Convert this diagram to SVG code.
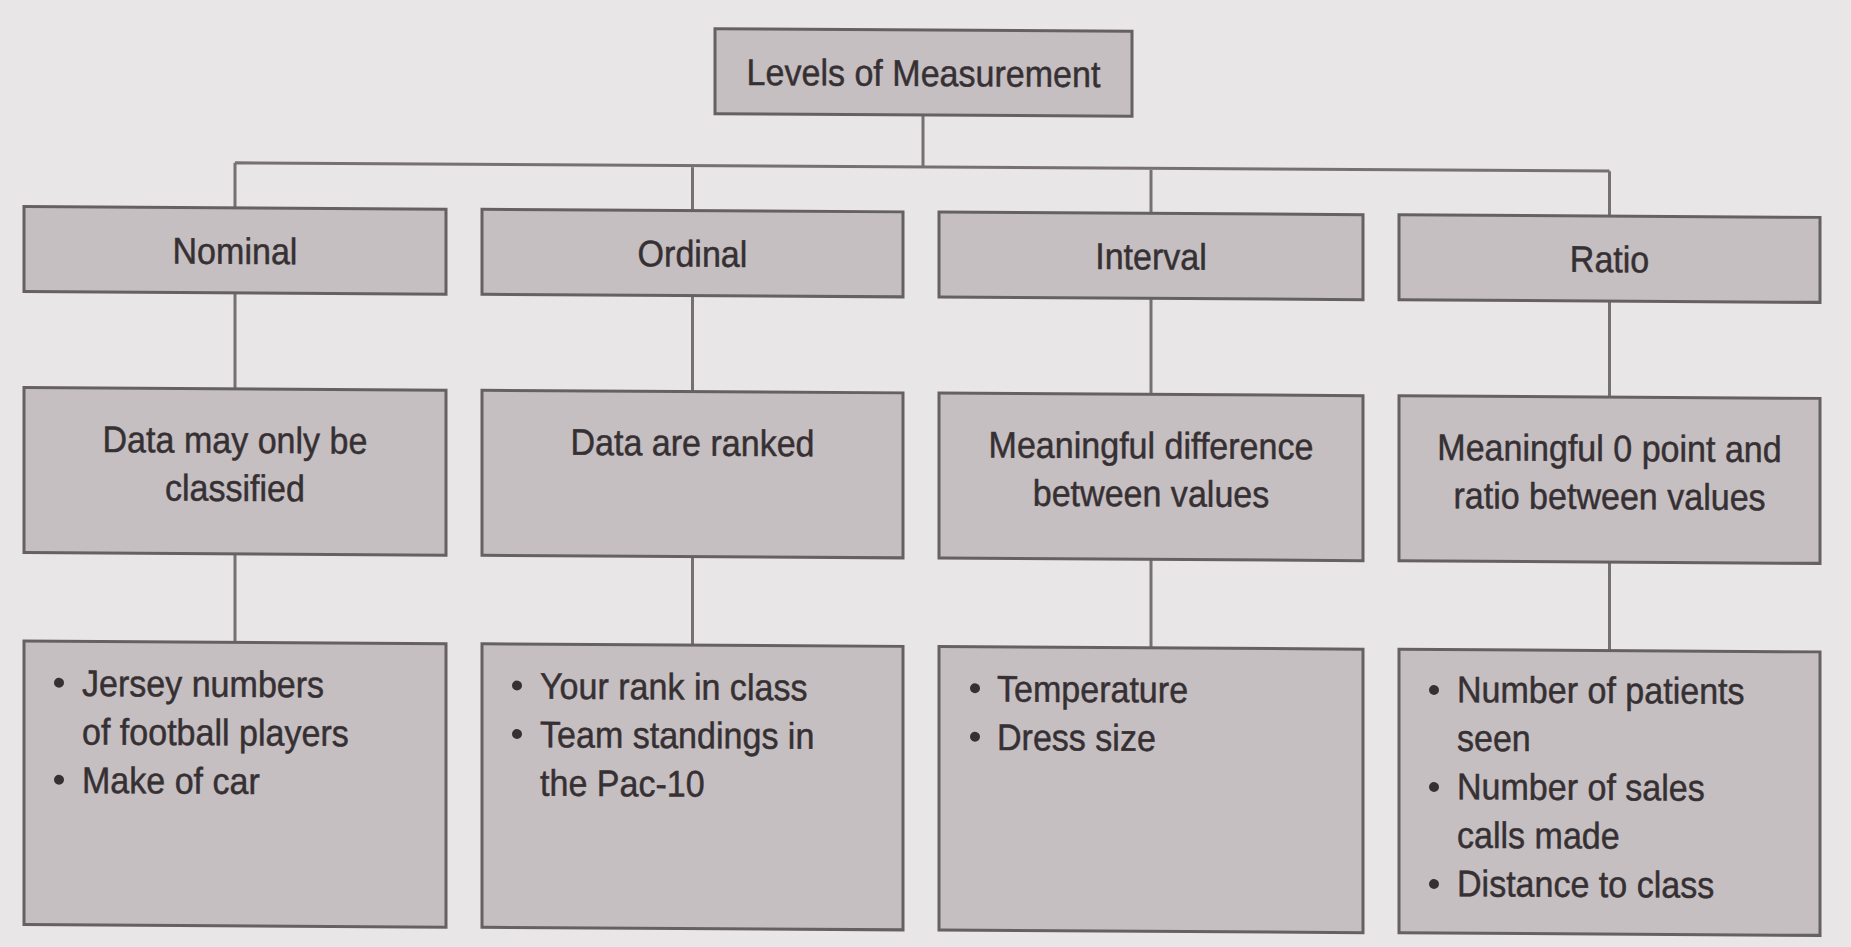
<svg xmlns="http://www.w3.org/2000/svg" width="1851" height="947" viewBox="0 0 1851 947">
  <style>
    .box { fill: #c5bfc2; stroke: #666063; stroke-width: 3; }
    .wire { fill: none; stroke: #767073; stroke-width: 3; }
    .lbl { font-family: "Liberation Sans", Arial, sans-serif; font-size: 37px; fill: #363033; stroke: #363033; stroke-width: 0.5; }
    .c { text-anchor: middle; }
    .dot { fill: #363033; }
  </style>
  <rect width="1851" height="947" fill="#e9e6e8"/>
  <!-- whole chart sits on a very slight slope; text groups are narrowed to a condensed face -->
  <g transform="matrix(1 0.006 0 1 0 -5.54)">
    <g id="connectors">
      <path class="wire" d="M923 115 V167 M235 167 H1609.5 M235 167 V212 M692.5 167 V212 M1151 167 V212 M1609.5 167 V212 M235 297 V393 M692.5 297 V393 M1151 297 V393 M1609.5 297 V393 M235 558 V646.5 M692.5 558 V646.5 M1151 558 V646.5 M1609.5 558 V646.5"/>
    </g>

    <g id="levels">
      <rect class="box" x="715" y="30" width="417" height="85"/>
      <g transform="scale(0.92 1)">
        <text class="lbl c" x="1003.8" y="86">Levels of Measurement</text>
      </g>
    </g>

    <g id="nominal">
      <rect class="box" x="24" y="212" width="422" height="85"/>
      <g transform="scale(0.92 1)">
        <text class="lbl c" x="255.4" y="268">Nominal</text>
      </g>
    </g>
    <g id="ordinal">
      <rect class="box" x="482" y="212" width="421" height="85"/>
      <g transform="scale(0.92 1)">
        <text class="lbl c" x="752.7" y="268">Ordinal</text>
      </g>
    </g>
    <g id="interval">
      <rect class="box" x="939" y="212" width="424" height="85"/>
      <g transform="scale(0.92 1)">
        <text class="lbl c" x="1251.1" y="268">Interval</text>
      </g>
    </g>
    <g id="ratio">
      <rect class="box" x="1399" y="212" width="421" height="85"/>
      <g transform="scale(0.92 1)">
        <text class="lbl c" x="1749.5" y="268">Ratio</text>
      </g>
    </g>

    <g id="nominal-rule">
      <rect class="box" x="24" y="393" width="422" height="165"/>
      <g transform="scale(0.92 1)">
        <text class="lbl c" x="255.4" y="457">Data may only be</text>
        <text class="lbl c" x="255.4" y="505">classified</text>
      </g>
    </g>
    <g id="ordinal-rule">
      <rect class="box" x="482" y="393" width="421" height="165"/>
      <g transform="scale(0.92 1)">
        <text class="lbl c" x="752.7" y="457">Data are ranked</text>
      </g>
    </g>
    <g id="interval-rule">
      <rect class="box" x="939" y="393" width="424" height="165"/>
      <g transform="scale(0.92 1)">
        <text class="lbl c" x="1251.1" y="457">Meaningful difference</text>
        <text class="lbl c" x="1251.1" y="505">between values</text>
      </g>
    </g>
    <g id="ratio-rule">
      <rect class="box" x="1399" y="393" width="421" height="165"/>
      <g transform="scale(0.92 1)">
        <text class="lbl c" x="1749.5" y="457">Meaningful 0 point and</text>
        <text class="lbl c" x="1749.5" y="505">ratio between values</text>
      </g>
    </g>

    <g id="nominal-examples">
      <rect class="box" x="24" y="646.5" width="422" height="283.5"/>
      <circle class="dot" cx="59" cy="688" r="5"/>
      <circle class="dot" cx="59" cy="785" r="5"/>
      <g transform="scale(0.92 1)">
        <text class="lbl" x="89.1" y="701">Jersey numbers</text>
        <text class="lbl" x="89.1" y="749.5">of football players</text>
        <text class="lbl" x="89.1" y="798">Make of car</text>
      </g>
    </g>
    <g id="ordinal-examples">
      <rect class="box" x="482" y="646.5" width="421" height="283.5"/>
      <circle class="dot" cx="517" cy="688" r="5"/>
      <circle class="dot" cx="517" cy="736.5" r="5"/>
      <g transform="scale(0.92 1)">
        <text class="lbl" x="587" y="701">Your rank in class</text>
        <text class="lbl" x="587" y="749.5">Team standings in</text>
        <text class="lbl" x="587" y="798">the Pac-10</text>
      </g>
    </g>
    <g id="interval-examples">
      <rect class="box" x="939" y="646.5" width="424" height="283.5"/>
      <circle class="dot" cx="975" cy="688" r="5"/>
      <circle class="dot" cx="975" cy="736.5" r="5"/>
      <g transform="scale(0.92 1)">
        <text class="lbl" x="1083.7" y="701">Temperature</text>
        <text class="lbl" x="1083.7" y="749.5">Dress size</text>
      </g>
    </g>
    <g id="ratio-examples">
      <rect class="box" x="1399" y="646.5" width="421" height="283.5"/>
      <circle class="dot" cx="1434" cy="687" r="5"/>
      <circle class="dot" cx="1434" cy="784" r="5"/>
      <circle class="dot" cx="1434" cy="881" r="5"/>
      <g transform="scale(0.92 1)">
        <text class="lbl" x="1583.7" y="699">Number of patients</text>
        <text class="lbl" x="1583.7" y="747.5">seen</text>
        <text class="lbl" x="1583.7" y="796">Number of sales</text>
        <text class="lbl" x="1583.7" y="844.5">calls made</text>
        <text class="lbl" x="1583.7" y="893">Distance to class</text>
      </g>
    </g>
  </g>
</svg>
